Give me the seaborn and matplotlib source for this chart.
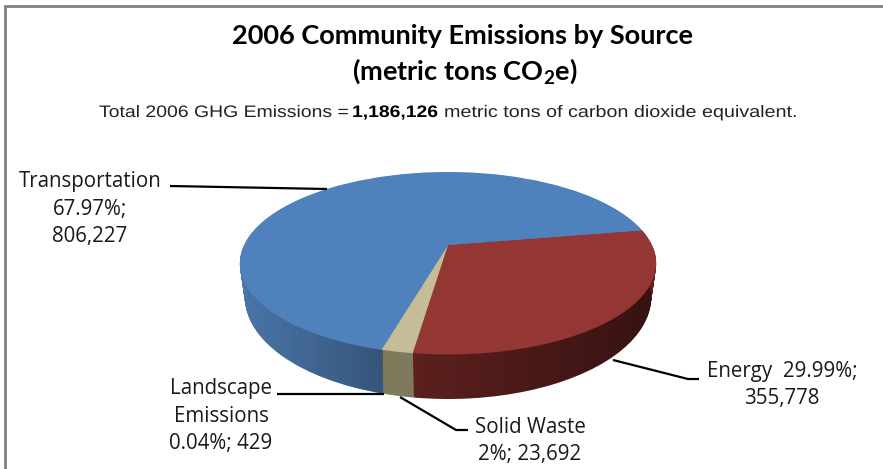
import numpy as np
import matplotlib
matplotlib.use('Agg')
import matplotlib.pyplot as plt
import matplotlib.patheffects as pe
from matplotlib.path import Path
from matplotlib.patches import PathPatch
from matplotlib.transforms import Transform, Affine2D
import seaborn as sns

# data
sources = ['Energy', 'Solid Waste', 'Landscape Emissions', 'Transportation']
tons = [355778, 23692, 429, 806227]
top_colors = ['#943634', '#C4BD97', '#C4BD97', '#4F81BD']
side_colors = ['#5C201E', '#7F7A5C', '#7F7A5C', '#4A76A8']

title_lines = ['2006 Community Emissions by Source', '(metric tons CO$_{\\mathbf{2}}$e)']
subtitle_parts = ['Total 2006 GHG Emissions =', '1,186,126', 'metric tons of carbon dioxide equivalent.']

sns.set_theme(style='white')
plt.rcParams['font.family'] = ['Lato', 'DejaVu Sans']
plt.rcParams['mathtext.fontset'] = 'custom'
plt.rcParams['mathtext.bf'] = 'Lato:bold'


class Tilt(Transform):
    # looks at the unit pie from above, the near edge comes out bigger
    input_dims = 2
    output_dims = 2

    def __init__(self, cx, cy, a, b, k=0.2):
        super().__init__()
        self.cx, self.cy, self.a, self.b, self.k = cx, cy, a, b, k

    def transform_non_affine(self, values):
        values = np.asarray(values)
        w = 1 + self.k * values[:, 1]
        return np.column_stack([self.cx + self.a * values[:, 0] / w,
                                self.cy - self.b * values[:, 1] / w])


class Stretch(pe.AbstractPathEffect):
    # the screenshot was stretched sideways, so its text is wider than the font
    def __init__(self, sx):
        super().__init__()
        self.sx = sx

    def draw_path(self, renderer, gc, tpath, affine, rgbFace=None):
        renderer.draw_path(gc, tpath, Affine2D().scale(self.sx, 1) + affine, rgbFace)


def layer(t):
    return Tilt(448, 245 + 32 * t, 204 - 5 * t, 87.6 + 10 * t)


def draw_pie(ax, colors, tilt):
    wedges, _ = ax.pie(tons, colors=colors, startangle=10, counterclock=False,
                       wedgeprops={'linewidth': 0})
    for w in wedges:
        w.set_transform(tilt + ax.transData)
        w.set_clip_on(False)
    return wedges


fig = plt.figure(figsize=(8.83, 4.69), dpi=100)
ax = fig.add_axes([0, 0, 1, 1])

# side of the pie, stacked layers
for t in np.linspace(1, 0.02, 50):
    draw_pie(ax, side_colors, layer(t))

ax.set_aspect('auto')
ax.set_xlim(0, 883)
ax.set_ylim(469, 0)

# darker to the right inside each slice
theta = np.radians(np.linspace(180, 360, 200))
arc = np.column_stack([np.cos(theta), np.sin(theta)])
outline = np.vstack([layer(0).transform(arc), layer(1).transform(arc)[::-1]])
x_grad = np.arange(883)
alpha = np.interp(x_grad, [240, 382, 383, 413, 414, 657], [0, 0.28, 0, 0, 0, 0.42])
shade = np.zeros((1, 883, 4))
shade[0, :, 3] = alpha
im = ax.imshow(shade, extent=(0, 883, 469, 0), aspect='auto', zorder=2)
im.set_clip_path(PathPatch(Path(outline), transform=ax.transData))

top = draw_pie(ax, top_colors, layer(0))
for w in top:
    w.set_zorder(3)

ax.set_xlim(0, 883)
ax.set_ylim(469, 0)
ax.set_aspect('auto')
ax.axis('off')

# frame of the screenshot
ax.plot([5, 5, 883], [469, 6, 6], color='#808080', lw=2, zorder=1, solid_joinstyle='miter')

# title
ax.text(462, 36, title_lines[0], ha='center', va='center', fontsize=19.5, fontweight='bold', color='black')
ax.text(465, 71, title_lines[1], ha='center', va='center', fontsize=19.5, fontweight='bold', color='black')

# subtitle, three pieces side by side
sub_style = dict(fontsize=12, family='Liberation Sans')
ax.text(99, 117, subtitle_parts[0], color='#222222', path_effects=[Stretch(1.165)], **sub_style)
ax.text(352, 117, subtitle_parts[1], color='black', fontweight='bold', path_effects=[Stretch(1.16)], **sub_style)
ax.text(444, 117, subtitle_parts[2], color='#222222', path_effects=[Stretch(1.185)], **sub_style)

# leader lines
line = dict(color='black', lw=1.6, zorder=4, solid_capstyle='butt')
ax.plot([170, 327], [186, 189], **line)
ax.plot([613, 688, 699], [360, 379, 379], **line)
ax.plot([400, 456, 468], [397, 430, 430], **line)
ax.plot([277, 384], [394, 394], **line)

# labels
label = dict(fontsize=14.8, family='Open Sans', color='#1a1a1a', ha='center', va='center', linespacing=1.38)
ax.text(90, 209, 'Transportation\n67.97%;\n806,227', **label)
ax.text(782, 385, 'Energy  29.99%;\n355,778', **label)
ax.text(530, 441, 'Solid Waste\n2%; 23,692', **label)
ax.text(221, 416, 'Landscape\nEmissions\n0.04%; 429', **label)

fig.savefig('out.png', dpi=100)
